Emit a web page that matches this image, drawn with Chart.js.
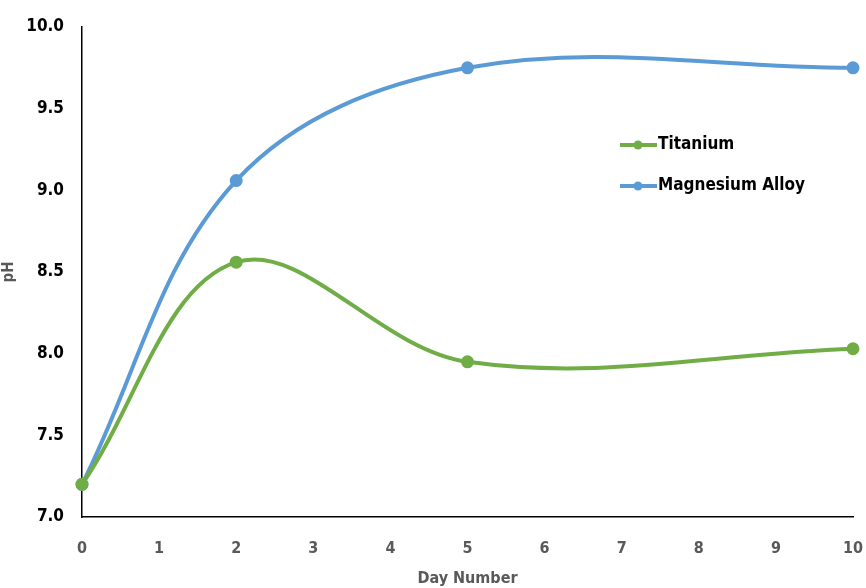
<!DOCTYPE html>
<html>
<head>
<meta charset="utf-8">
<script src="https://cdn.jsdelivr.net/npm/chart.js@4/dist/chart.umd.min.js"></script>
<style>
  html, body { margin: 0; padding: 0; background: #fff; }
  #wrap { width: 866px; height: 588px; }
</style>
</head>
<body>
<div id="wrap"><canvas id="phChart"></canvas></div>
<script>
const days = [0, 2, 5, 10];
const titanium = [7.2, 8.56, 7.95, 8.03];
const magnesium = [7.2, 9.06, 9.75, 9.75];
const seriesNames = ["Titanium", "Magnesium Alloy"];
const seriesColors = ["#70AD47", "#5B9BD5"];

const FONT = "'DejaVu Sans Condensed', 'Liberation Sans', sans-serif";

function toPoints(ys) {
    return days.map((d, i) => ({ x: d, y: ys[i] }));
}

// legend drawn inside the plot, to the right
const innerLegend = {
    id: "innerLegend",
    afterDraw(chart) {
        const ctx = chart.ctx;
        const x0 = 620, rows = [145, 186];
        ctx.save();
        chart.data.datasets.forEach((ds, i) => {
            const y = rows[i];
            ctx.strokeStyle = ds.borderColor;
            ctx.lineWidth = 4;
            ctx.beginPath();
            ctx.moveTo(x0, y);
            ctx.lineTo(x0 + 37, y);
            ctx.stroke();
            ctx.fillStyle = ds.borderColor;
            ctx.beginPath();
            ctx.arc(x0 + 18, y, 4.5, 0, Math.PI * 2);
            ctx.fill();
            ctx.fillStyle = "#000";
            ctx.font = "bold 17px " + FONT;
            ctx.textBaseline = "middle";
            ctx.fillText(ds.label, x0 + 38, y);
        });
        ctx.restore();
    }
};

const lineStyle = {
    borderWidth: 4,
    pointRadius: 4.5,
    pointHoverRadius: 4.5,
    tension: 0.36,
    clip: false
};

new Chart(document.getElementById("phChart"), {
    type: "line",
    data: {
        datasets: [
            {
                label: seriesNames[0],
                data: toPoints(titanium),
                borderColor: seriesColors[0],
                backgroundColor: seriesColors[0],
                ...lineStyle
            },
            {
                label: seriesNames[1],
                data: toPoints(magnesium),
                borderColor: seriesColors[1],
                backgroundColor: seriesColors[1],
                ...lineStyle
            }
        ]
    },
    options: {
        responsive: true,
        maintainAspectRatio: false,
        animation: false,
        layout: { padding: { top: 27, right: 13, left: 0, bottom: 0 } },
        plugins: {
            legend: { display: false },
            tooltip: { enabled: false }
        },
        scales: {
            x: {
                type: "linear",
                min: 0,
                max: 10,
                ticks: {
                    stepSize: 1,
                    color: "#595959",
                    font: { family: FONT, size: 16, weight: "bold" },
                    padding: 22
                },
                grid: { display: false, drawTicks: false },
                border: { color: "#000", width: 1.5 },
                title: {
                    display: true,
                    text: "Day Number",
                    color: "#595959",
                    font: { family: FONT, size: 16, weight: "bold" },
                    padding: { top: 4, bottom: 0 }
                },
                afterFit(scale) {
                    scale.height = 71;
                    scale.paddingLeft = 0;
                    scale.paddingRight = 0;
                }
            },
            y: {
                min: 7,
                max: 10,
                ticks: {
                    stepSize: 0.5,
                    color: "#000",
                    font: { family: FONT, size: 17, weight: "bold" },
                    padding: 18,
                    callback: v => v.toFixed(1)
                },
                grid: { display: false, drawTicks: false },
                border: { color: "#000", width: 1.5 },
                title: {
                    display: true,
                    text: "pH",
                    color: "#595959",
                    font: { family: FONT, size: 15, weight: "bold" },
                    padding: { top: 0, bottom: 10 }
                },
                afterFit(scale) {
                    scale.width = 82;
                    scale.paddingTop = 0;
                    scale.paddingBottom = 0;
                }
            }
        }
    },
    plugins: [innerLegend]
});
</script>
</body>
</html>
